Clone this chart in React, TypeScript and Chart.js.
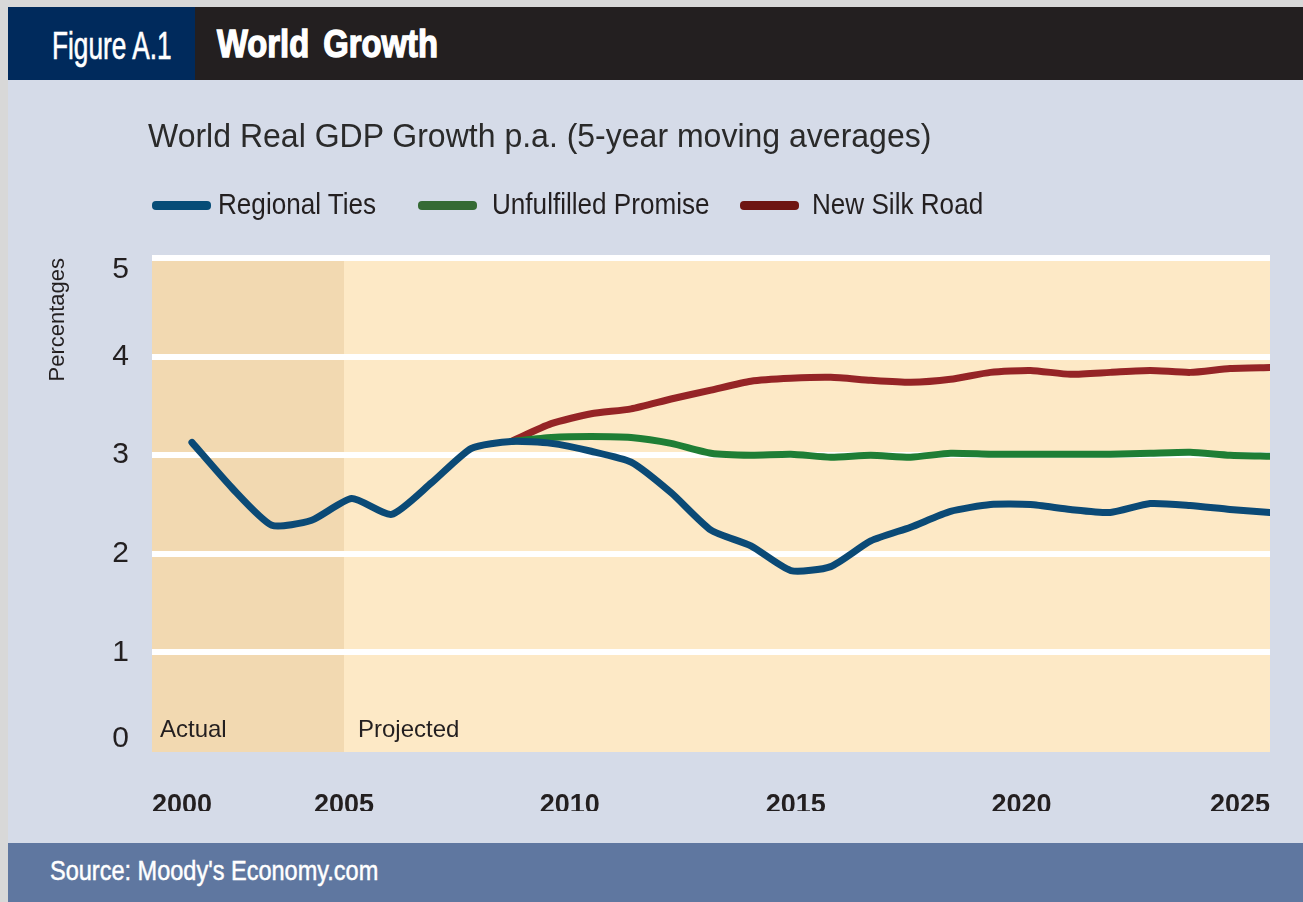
import React, { useEffect, useRef } from "react";
import { Chart, registerables } from "chart.js";

Chart.register(...registerables);

// ---------------- data ----------------
const seriesNames = ["Regional Ties", "Unfulfilled Promise", "New Silk Road"];
const yearLabels = ["2000", "2005", "2010", "2015", "2020", "2025"];
const actualEndYear = 2005;
const yearAxisMin = 2000.75;
const yearAxisMax = 2025.5;

// one value per period (28 periods, equally spaced)
const regionalTies = [
  3.13, 2.67, 2.29, 2.34, 2.56, 2.4, 2.72, 3.07, 3.14, 3.12, 3.04, 2.93, 2.62, 2.24,
  2.08, 1.83, 1.87, 2.13, 2.27, 2.43, 2.5, 2.5, 2.45, 2.42, 2.51, 2.49, 2.45, 2.42,
];
const unfulfilledPromise = [
  null, null, null, null, null, null, null, null, 3.14, 3.18, 3.19, 3.18, 3.12, 3.02,
  3.0, 3.01, 2.98, 3.0, 2.98, 3.02, 3.01, 3.01, 3.01, 3.01, 3.02, 3.03, 3.0, 2.99,
];
const newSilkRoad = [
  null, null, null, null, null, null, null, null, 3.14, 3.32, 3.42, 3.47, 3.57, 3.66,
  3.75, 3.78, 3.79, 3.76, 3.74, 3.77, 3.84, 3.86, 3.82, 3.84, 3.86, 3.84, 3.88, 3.89,
];

// ---------------- styles ----------------
const FONT = "'Liberation Sans', Arial, Helvetica, sans-serif";
const PAGE_BG = "#d8d8d8";
const HEADER_BG = "#231f20";
const NAVY = "#002a5c";
const PANEL_BG = "#d5dbe8";
const FOOTER_BG = "#5f77a0";
const PLOT_BG = "#fde9c6";
const ACTUAL_BG = "#f2d9b1";
const TEXT = "#231f20";
const lineColors = ["#0b4a76", "#1f7e35", "#952426"];
const legendColors = ["#064c77", "#356a34", "#6e1512"];

const toPoints = (arr: (number | null)[]) => arr.map((v, i) => ({ x: i, y: v }));

const periodAreaPlugin = {
  id: "periodArea",
  beforeDraw(chart: any) {
    const { ctx, chartArea: a, scales } = chart;
    const xEnd = scales.x.getPixelForValue(actualEndYear);
    ctx.save();
    ctx.fillStyle = PLOT_BG;
    ctx.fillRect(a.left, a.top - 3, a.right - a.left, a.bottom - a.top + 4);
    ctx.fillStyle = ACTUAL_BG;
    ctx.fillRect(a.left, a.top - 3, xEnd - a.left, a.bottom - a.top + 4);
    ctx.restore();
  },
  beforeDatasetsDraw(chart: any) {
    const { ctx, chartArea: a, scales } = chart;
    const xEnd = scales.x.getPixelForValue(actualEndYear);
    ctx.save();
    ctx.font = `24px ${FONT}`;
    ctx.fillStyle = TEXT;
    ctx.textBaseline = "middle";
    ctx.textAlign = "left";
    ctx.fillText("Actual", a.left + 8, a.bottom - 21);
    ctx.fillText("Projected", xEnd + 14, a.bottom - 21);
    ctx.restore();
  },
};

export default function App() {
  const canvasRef = useRef<HTMLCanvasElement>(null);

  useEffect(() => {
    document.body.style.background = PAGE_BG;
    document.body.style.overflow = "hidden";
    document.documentElement.style.overflow = "hidden";
    const lineDs = (label: string, data: (number | null)[], color: string) => ({
      label,
      data: toPoints(data),
      xAxisID: "xi",
      yAxisID: "y",
      borderColor: color,
      backgroundColor: color,
      borderWidth: 7,
      pointRadius: 0,
      tension: 0.2,
      borderCapStyle: "round" as const,
      borderJoinStyle: "round" as const,
      spanGaps: false,
    });
    const chart = new Chart(canvasRef.current as HTMLCanvasElement, {
      type: "line",
      data: {
        datasets: [
          lineDs(seriesNames[0], regionalTies, lineColors[0]),
          lineDs(seriesNames[1], unfulfilledPromise, lineColors[1]),
          lineDs(seriesNames[2], newSilkRoad, lineColors[2]),
        ],
      },
      options: {
        responsive: false,
        animation: false,
        devicePixelRatio: 1,
        layout: { padding: { top: 178, left: 37, right: 33, bottom: 32 } },
        plugins: {
          legend: { display: false },
          title: { display: false },
          tooltip: { enabled: false },
        },
        scales: {
          xi: {
            type: "linear",
            display: false,
            min: -1,
            max: regionalTies.length - 1,
          },
          x: {
            type: "linear",
            position: "bottom",
            min: yearAxisMin,
            max: yearAxisMax,
            grid: { display: false },
            border: { display: false },
            afterBuildTicks: (axis: any) => {
              axis.ticks = yearLabels.map((l, i) => ({
                value: i === 0 ? axis.min : i === yearLabels.length - 1 ? axis.max : Number(l),
              }));
            },
            afterFit: (axis: any) => {
              axis.height = 60;
            },
            ticks: {
              autoSkip: false,
              maxRotation: 0,
              align: "inner",
              padding: 30,
              color: TEXT,
              font: { family: FONT, size: 27, weight: "bold" },
              callback: (_v: any, i: number) => yearLabels[i],
            },
          },
          y: {
            type: "linear",
            min: 0,
            max: 5,
            afterFit: (axis: any) => {
              axis.width = 107;
            },
            grid: {
              color: (c: any) => (c.tick && c.tick.value === 0 ? "rgba(0,0,0,0)" : "#ffffff"),
              lineWidth: 6,
              drawTicks: false,
            },
            border: { display: false },
            title: {
              display: true,
              text: "Percentages",
              align: "end",
              color: TEXT,
              padding: 0,
              font: { family: FONT, size: 22 },
            },
            ticks: {
              stepSize: 1,
              padding: 23,
              color: TEXT,
              font: { family: FONT, size: 30, lineHeight: 0.8 },
              callback: (v: any) => (v === 5 ? ["", "5"] : v === 0 ? ["0", ""] : String(v)),
            },
          },
        },
      },
      plugins: [periodAreaPlugin],
    } as any);
    return () => chart.destroy();
  }, []);

  const swatchLeft = [144, 410, 732];
  const textLeft = [210, 484, 804];

  return (
    <div
      style={{
        position: "fixed",
        left: 8,
        top: 7,
        width: 1295,
        height: 895,
        fontFamily: FONT,
      }}
    >
      <div style={{ height: 73, background: HEADER_BG, position: "relative" }}>
        <div style={{ position: "absolute", left: 0, top: 0, width: 187, height: 73, background: NAVY }} />
        <span
          style={{
            position: "absolute",
            left: 44,
            top: 20,
            fontSize: 38,
            lineHeight: "38px",
            color: "#fff",
            whiteSpace: "nowrap",
            WebkitTextStroke: "0.6px #fff",
            transform: "scaleX(0.69)",
            transformOrigin: "left top",
          }}
        >
          Figure A.1
        </span>
        <span
          style={{
            position: "absolute",
            left: 209,
            top: 17,
            fontSize: 39,
            lineHeight: "39px",
            fontWeight: "bold",
            color: "#fff",
            whiteSpace: "nowrap",
            wordSpacing: 6,
            WebkitTextStroke: "1.4px #fff",
            transform: "scaleX(0.84)",
            transformOrigin: "left top",
          }}
        >
          World Growth
        </span>
      </div>
      <div style={{ height: 763, background: PANEL_BG, position: "relative" }}>
        <canvas ref={canvasRef} width={1295} height={763} style={{ display: "block" }} />
        <span
          style={{
            position: "absolute",
            left: 140,
            top: 38,
            fontSize: 33,
            lineHeight: "36px",
            color: "#2a2a2a",
            whiteSpace: "nowrap",
            transform: "scaleX(0.97)",
            transformOrigin: "left top",
          }}
        >
          World Real GDP Growth p.a. (5-year moving averages)
        </span>
        {seriesNames.map((name, i) => (
          <React.Fragment key={name}>
            <div
              style={{
                position: "absolute",
                left: swatchLeft[i],
                top: 121,
                width: 59,
                height: 9,
                borderRadius: 4,
                background: legendColors[i],
              }}
            />
            <span
              style={{
                position: "absolute",
                left: textLeft[i],
                top: 109,
                fontSize: 29,
                lineHeight: "30px",
                color: TEXT,
                whiteSpace: "nowrap",
                transform: "scaleX(0.9)",
                transformOrigin: "left top",
              }}
            >
              {name}
            </span>
          </React.Fragment>
        ))}
      </div>
      <div style={{ height: 59, background: FOOTER_BG, position: "relative" }}>
        <span
          style={{
            position: "absolute",
            left: 42,
            top: 14,
            fontSize: 28,
            lineHeight: "28px",
            color: "#fff",
            whiteSpace: "nowrap",
            WebkitTextStroke: "0.5px #fff",
            transform: "scaleX(0.84)",
            transformOrigin: "left top",
          }}
        >
          Source: Moody's Economy.com
        </span>
      </div>
    </div>
  );
}
